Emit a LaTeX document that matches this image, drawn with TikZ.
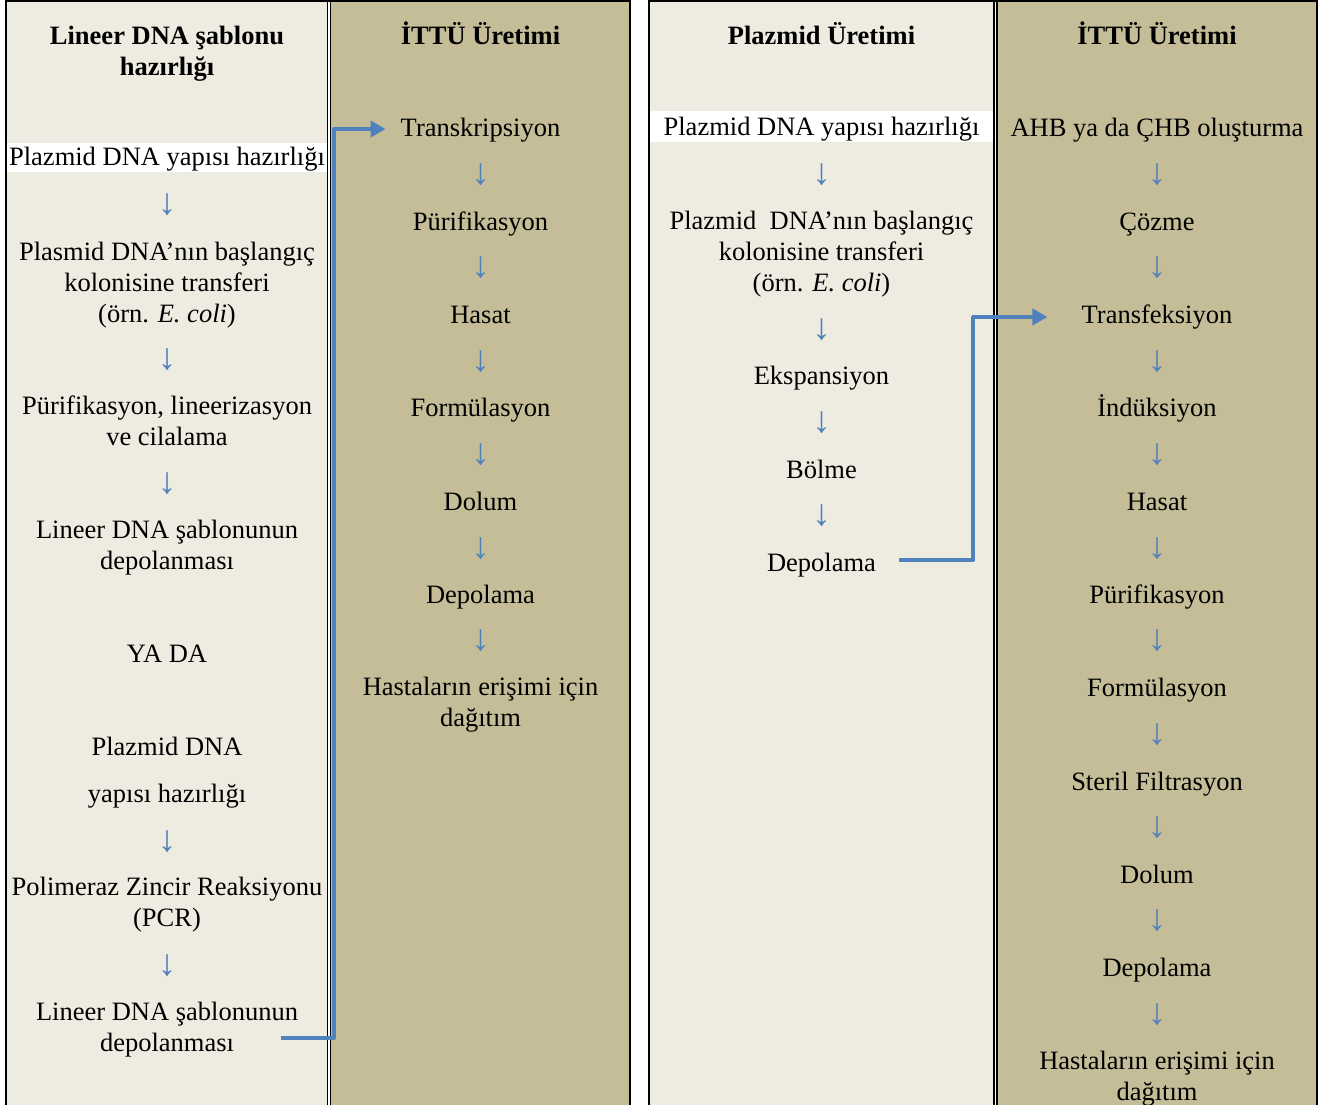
\documentclass[tikz,border=0pt]{standalone}
\usepackage{fontspec}
\setmainfont{Liberation Serif}
\usetikzlibrary{arrows.meta}
\definecolor{light}{HTML}{EEECE1}
\definecolor{tanc}{HTML}{C4BD97}
\definecolor{acc}{HTML}{4F81BD}
\newcommand\fs{\fontsize{26.5}{31}\selectfont}
\newcommand\NL{\\\strut}
\begin{document}
\begin{tikzpicture}[x=1pt,y=-1pt,
 lbl/.style={font=\fs, align=center, inner sep=0pt, execute at begin node=\strut},
 hdr/.style={lbl, font=\fs\bfseries},
 dn/.style={font=\fontsize{37}{37}\selectfont, text=acc, inner sep=0pt},
 conn/.style={draw=acc, line width=4pt, line join=round, -{Triangle[length=15pt,width=16pt]}},
 rulel/.style={line width=1.4pt},
 frame/.style={line width=2pt},
]
\useasboundingbox (0,0) rectangle (1318,1105);
% backgrounds
\fill[light] (6,1) rectangle (328,1105);
\fill[tanc] (330,1) rectangle (630,1105);
\fill[light] (649,1) rectangle (995,1105);
\fill[tanc] (996,1) rectangle (1317,1105);
\fill[white] (7,143) rectangle (327,172);
\fill[white] (650,111) rectangle (993,142);
% frames
\draw[frame] (6,1105) -- (6,1) -- (630,1) -- (630,1105);
\draw[rulel] (327.7,0) -- (327.7,1105);
\draw[rulel] (330.6,0) -- (330.6,1105);
\draw[frame] (649,1105) -- (649,1) -- (1317,1) -- (1317,1105);
\draw[rulel] (994,0) -- (994,1105);
\draw[rulel] (996.8,0) -- (996.8,1105);

% column 1
\node[hdr] (h1) at (167,55) {Lineer DNA şablonu\NL hazırlığı};
\node[lbl] (l1) at (167,159) {Plazmid DNA yapısı hazırlığı};
\node[dn] (l1a) at (167,205) {↓};
\node[lbl] (l2) at (167,286.5) {Plasmid DNA’nın başlangıç\NL kolonisine transferi\NL (örn. \textit{E. coli})};
\node[dn] (l2a) at (167,360) {↓};
\node[lbl] (l3) at (167,425.5) {Pürifikasyon, lineerizasyon\NL ve cilalama};
\node[dn] (l3a) at (167,484) {↓};
\node[lbl] (l4) at (167,549.5) {Lineer DNA şablonunun\NL depolanması};
\node[lbl] (l5) at (167,656) {YA DA};
\node[lbl] (l6) at (167,774.5) {Plazmid DNA\\[16pt]\strut yapısı hazırlığı};
\node[dn] (l6a) at (167,842) {↓};
\node[lbl] (l7) at (167,906.5) {Polimeraz Zincir Reaksiyonu\NL (PCR)};
\node[dn] (l7a) at (167,966) {↓};
\node[lbl] (l8) at (167,1031) {Lineer DNA şablonunun\NL depolanması};

% column 2
\node[hdr] (h2) at (480.5,38) {İTTÜ Üretimi};
\node[lbl] (transk) at (480.5,130) {Transkripsiyon};
\node[dn] at (480.5,175) {↓};
\node[lbl] (m2) at (480.5,224) {Pürifikasyon};
\node[dn] at (480.5,268) {↓};
\node[lbl] (m3) at (480.5,317) {Hasat};
\node[dn] at (480.5,362) {↓};
\node[lbl] (m4) at (480.5,410) {Formülasyon};
\node[dn] at (480.5,455) {↓};
\node[lbl] (m5) at (480.5,504) {Dolum};
\node[dn] at (480.5,549) {↓};
\node[lbl] (m6) at (480.5,597) {Depolama};
\node[dn] at (480.5,641) {↓};
\node[lbl] (m7) at (480.5,706.5) {Hastaların erişimi için\NL dağıtım};

% column 3
\node[hdr] (h3) at (821.5,38) {Plazmid Üretimi};
\node[lbl] (p1) at (821.5,129.5) {Plazmid DNA yapısı hazırlığı};
\node[dn] at (821.5,175) {↓};
\node[lbl] (p2) at (821.5,256) {Plazmid~ DNA’nın başlangıç\NL kolonisine transferi\NL (örn. \textit{E. coli})};
\node[dn] at (821.5,330) {↓};
\node[lbl] (p3) at (821.5,378) {Ekspansiyon};
\node[dn] at (821.5,423) {↓};
\node[lbl] (p4) at (821.5,472) {Bölme};
\node[dn] at (821.5,516) {↓};
\node[lbl] (p5) at (821.5,565) {Depolama};

% column 4
\node[hdr] (h4) at (1157,38) {İTTÜ Üretimi};
\node[lbl] (q1) at (1157,130) {AHB ya da ÇHB oluşturma};
\node[dn] at (1157,175) {↓};
\node[lbl] (q2) at (1157,224) {Çözme};
\node[dn] at (1157,268) {↓};
\node[lbl] (transf) at (1157,317) {Transfeksiyon};
\node[dn] at (1157,362) {↓};
\node[lbl] (q4) at (1157,410) {İndüksiyon};
\node[dn] at (1157,455) {↓};
\node[lbl] (q5) at (1157,504) {Hasat};
\node[dn] at (1157,549) {↓};
\node[lbl] (q6) at (1157,597) {Pürifikasyon};
\node[dn] at (1157,641) {↓};
\node[lbl] (q7) at (1157,690) {Formülasyon};
\node[dn] at (1157,735) {↓};
\node[lbl] (q8) at (1157,784) {Steril Filtrasyon};
\node[dn] at (1157,828) {↓};
\node[lbl] (q9) at (1157,877) {Dolum};
\node[dn] at (1157,921) {↓};
\node[lbl] (q10) at (1157,970) {Depolama};
\node[dn] at (1157,1015) {↓};
\node[lbl] (q11) at (1157,1080) {Hastaların erişimi için\NL dağıtım};

% connectors
\coordinate (s1) at (281,1038);
\draw[conn] (s1) -| ([xshift=-67pt,yshift=1pt]transk.west) -- ([xshift=-15pt,yshift=1pt]transk.west);
\coordinate (s2) at (899,560);
\draw[conn] (s2) -| ([xshift=-108pt]transf.west) -- ([xshift=-34pt]transf.west);
\end{tikzpicture}
\end{document}
